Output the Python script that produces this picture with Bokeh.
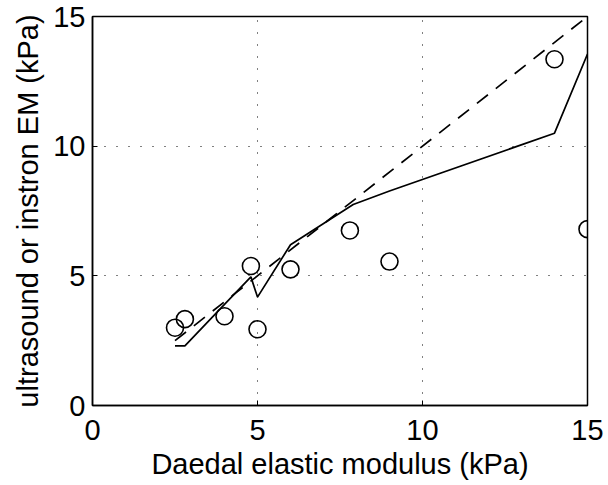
from bokeh.plotting import figure
from bokeh.models import Range1d, FixedTicker
from bokeh.embed import file_html
from bokeh.resources import INLINE

# Data
circle_x = [2.5, 2.8, 4.0, 4.8, 5.0, 6.0, 7.8, 9.0, 14.0, 15.0]
circle_y = [3.0, 3.33, 3.44, 5.38, 2.94, 5.25, 6.75, 5.55, 13.35, 6.8]

fit_x = [2.5, 2.8, 4.0, 4.8, 5.0, 6.0, 7.9, 9.0, 14.0, 15.0]
fit_y = [2.3, 2.3, 3.9, 4.96, 4.18, 6.2, 7.75, 8.27, 10.5, 13.55]

ident_x = [2.5, 15.0]
ident_y = [2.5, 15.0]

ticks = [0, 5, 10, 15]

FONT = "Liberation Sans"
FS = "29px"

p = figure(width=608, height=485, output_backend="svg", toolbar_location=None,
           x_range=Range1d(0, 15), y_range=Range1d(0, 15),
           min_border_left=92, min_border_right=21, min_border_top=16,
           min_border_bottom=80)
p.background_fill_color = "white"
p.border_fill_color = "white"
p.outline_line_color = "black"
p.outline_line_width = 1.5

for ax in (p.xaxis, p.yaxis):
    ax.ticker = FixedTicker(ticks=ticks)
    ax.major_tick_in = 5
    ax.major_tick_out = 0
    ax.minor_tick_in = 0
    ax.minor_tick_out = 0
    ax.axis_line_color = "black"
    ax.axis_line_width = 1.5
    ax.major_label_text_font = FONT
    ax.major_label_text_font_size = FS
    ax.major_label_text_color = "black"
    ax.axis_label_text_font = FONT
    ax.axis_label_text_font_size = FS
    ax.axis_label_text_font_style = "normal"
    ax.axis_label_text_color = "black"

p.xaxis.axis_label = "Daedal elastic modulus (kPa)"
p.yaxis.axis_label = "ultrasound or instron EM (kPa)"
p.xaxis.major_label_standoff = 14
p.xaxis.axis_label_standoff = 5
p.yaxis.major_label_standoff = 7
p.yaxis.axis_label_standoff = 6

for g in (p.xgrid, p.ygrid):
    g.ticker = FixedTicker(ticks=[5, 10])
    g.grid_line_color = "black"
    g.grid_line_width = 1
    g.grid_line_dash = "1 11"

p.line(ident_x, ident_y, line_color="black", line_width=1.7, line_dash="14 10")
p.line(fit_x, fit_y, line_color="black", line_width=1.7)
p.scatter(circle_x, circle_y, marker="circle", size=17, fill_color=None,
          line_color="black", line_width=1.6)

open("out.html", "w").write(file_html(p, INLINE))
